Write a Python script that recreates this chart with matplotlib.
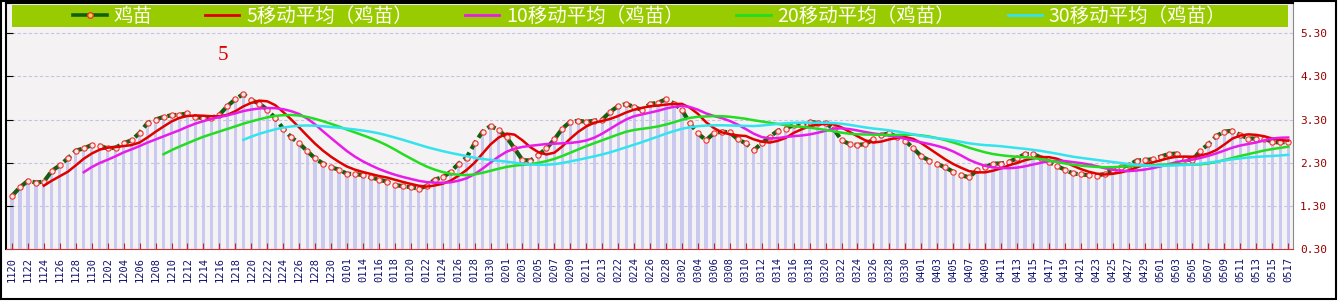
import matplotlib.pyplot as plt
from matplotlib.lines import Line2D
from matplotlib.patches import Rectangle
import numpy as np
import pandas as pd

plt.rcParams['font.family'] = ['Noto Sans CJK SC', 'DejaVu Sans']

# date labels, one for every second trading day
tick_labels = ['1120', '1122', '1124', '1126', '1128', '1130',
               '1202', '1204', '1206', '1208', '1210', '1212', '1214', '1216',
               '1218', '1220', '1222', '1224', '1226', '1228', '1230',
               '0101', '0114', '0116', '0118', '0120', '0122', '0124',
               '0126', '0128', '0130',
               '0201', '0203', '0205', '0207', '0209', '0211', '0213',
               '0222', '0224', '0226', '0228',
               '0302', '0304', '0306', '0308', '0310', '0312', '0314', '0316',
               '0318', '0320', '0322', '0324', '0326', '0328', '0330',
               '0401', '0403', '0405', '0407', '0409', '0411', '0413', '0415',
               '0417', '0419', '0421', '0423', '0425', '0427', '0429',
               '0501', '0503', '0505', '0507', '0509', '0511', '0513', '0515', '0517']

# 鸡苗 price, one value per day
price = [1.53, 1.73, 1.88, 1.84, 1.86, 2.11, 2.24, 2.40, 2.58, 2.63,
         2.71, 2.69, 2.63, 2.65, 2.75, 2.82, 2.99, 3.22, 3.30, 3.36,
         3.40, 3.41, 3.44, 3.36, 3.33, 3.34, 3.41, 3.61, 3.77, 3.89,
         3.75, 3.67, 3.53, 3.33, 3.09, 2.89, 2.75, 2.57, 2.40, 2.28,
         2.19, 2.14, 2.04, 2.04, 2.01, 1.96, 1.91, 1.86, 1.78, 1.76,
         1.73, 1.70, 1.76, 1.91, 1.96, 2.09, 2.28, 2.42, 2.75, 3.02,
         3.15, 3.06, 2.89, 2.63, 2.36, 2.35, 2.48, 2.63, 2.84, 3.09,
         3.25, 3.27, 3.25, 3.27, 3.30, 3.48, 3.61, 3.66, 3.59, 3.52,
         3.66, 3.69, 3.77, 3.67, 3.52, 3.21, 2.98, 2.82, 2.98, 3.02,
         3.00, 2.84, 2.75, 2.59, 2.75, 2.90, 3.04, 3.09, 3.17, 3.17,
         3.25, 3.22, 3.21, 3.09, 2.82, 2.73, 2.71, 2.73, 2.84, 2.94,
         2.98, 2.89, 2.81, 2.63, 2.45, 2.35, 2.27, 2.19, 2.09, 2.01,
         1.96, 2.13, 2.19, 2.28, 2.28, 2.32, 2.40, 2.50, 2.50, 2.42,
         2.32, 2.22, 2.14, 2.05, 2.03, 2.01, 2.00, 2.04, 2.13, 2.19,
         2.24, 2.35, 2.36, 2.38, 2.44, 2.50, 2.51, 2.38, 2.36, 2.58,
         2.73, 2.92, 3.02, 3.04, 2.94, 2.86, 2.86, 2.86, 2.78, 2.77, 2.78]

ma_windows = [5, 10, 20, 30]
ma_colors = ['#E00000', '#E81CE8', '#22DD22', '#33E3EE']
y_ticks = [0.30, 1.30, 2.30, 3.30, 4.30, 5.30]

s = pd.Series(price)
x = np.arange(len(price))

fig = plt.figure(figsize=(13.4, 3.01), dpi=100)
ax = fig.add_axes([6 / 1340, 1 - 249 / 301, 1287 / 1340, 246 / 301])
ax.set_facecolor('#F4F2F2')

ax.bar(x, s - 0.3, bottom=0.3, width=0.4, color='#CACAF0', zorder=1)
for yv in y_ticks[1:]:
    ax.axhline(yv, color='#C4C4E4', lw=0.8, ls=(0, (3, 2)), zorder=1.5)

ax.plot(x, s, color='#106010', lw=3, ls=(0, (2.2, 1.0)), marker='o', ms=3.8,
        mfc='#FFE8E4', mec='#EE3333', mew=0.8, zorder=3)
for n, c in zip(ma_windows, ma_colors):
    ax.plot(x, s.rolling(n).mean(), color=c, lw=1.8, zorder=4)

ax.set_xlim(-0.75, 160.6)
ax.set_ylim(0.3, 6.0)

# legend bar
ax.add_patch(Rectangle((6 / 1287, 222 / 246), 1276 / 1287, 22 / 246, transform=ax.transAxes,
                       facecolor='#99CC00', edgecolor='none', zorder=5))
handles = [Line2D([], [], color='#106010', lw=2.6, marker='o', ms=4, mfc='#FFD040', mec='#EE3333')]
handles += [Line2D([], [], color=c, lw=2) for c in ma_colors]
names = ['鸡苗'] + [f'{n}移动平均（鸡苗）' for n in ma_windows]
leg = ax.legend(handles, names, loc='center', bbox_to_anchor=(0.5, 233 / 246), ncol=5,
                frameon=False, fontsize=14, handlelength=1.75, handletextpad=0.35,
                columnspacing=2.7, labelcolor='#FFFFF0', borderpad=0)
leg.set_zorder(6)

ax.text(217 / 1287, 194 / 246, '5', transform=ax.transAxes, color='#DD0000', fontsize=15,
        family='Liberation Serif', ha='center', va='center')

ax.set_xticks(x[::2])
ax.set_xticklabels(tick_labels, rotation=90, fontfamily='DejaVu Sans Mono', fontsize=7.5, color='#101070')
ax.tick_params(axis='x', direction='in', length=4, color='#CC2222', pad=6)

ax.set_yticks(y_ticks)
ax.set_yticklabels([f'{v:.2f}' for v in y_ticks], fontfamily='DejaVu Sans Mono', fontsize=8, color='#990000')
ax.tick_params(axis='y', left=True, right=False, labelleft=False, labelright=True,
               direction='in', length=5, color='black', pad=5)

ax.spines['left'].set_color('black')
ax.spines['left'].set_linewidth(1.5)
ax.spines['top'].set_color('black')
ax.spines['top'].set_linewidth(1.5)
ax.spines['right'].set_color('#888888')
ax.spines['bottom'].set_color('#CC3333')

fig.add_artist(Rectangle((0.001, 0.006), 0.996, 0.99, transform=fig.transFigure,
                         fill=False, edgecolor='black', lw=1.5))

plt.savefig('out.png', dpi=100)
